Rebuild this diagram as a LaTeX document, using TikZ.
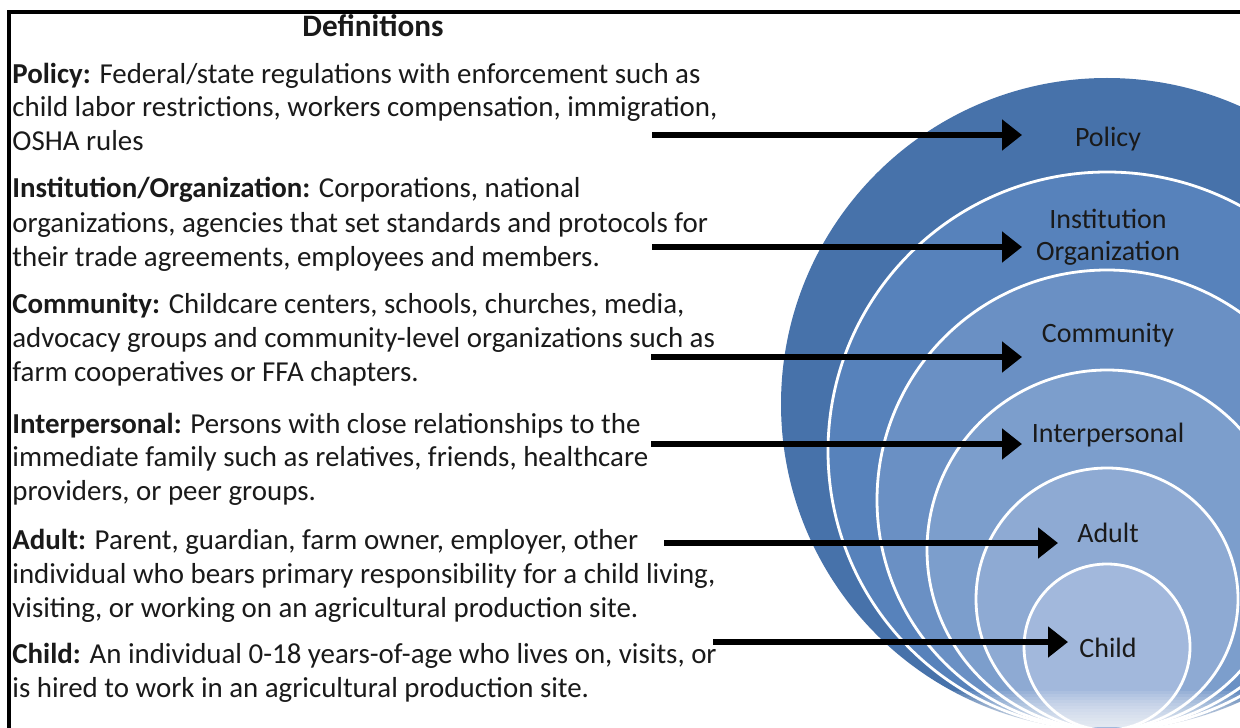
\documentclass[tikz,border=0pt]{standalone}
\usepackage{fontspec}
\setmainfont{Carlito}
\usetikzlibrary{arrows.meta}
\definecolor{ringA}{HTML}{4772AA}
\definecolor{ringB}{HTML}{5782BB}
\definecolor{ringC}{HTML}{6A90C4}
\definecolor{ringD}{HTML}{7C9ECC}
\definecolor{ringE}{HTML}{8EAAD3}
\definecolor{ringF}{HTML}{A2B8DC}
\definecolor{txt}{HTML}{1A1A1A}
\tikzset{
  defline/.style={anchor=base west, inner sep=0pt, text=txt, font=\fontsize{14.45}{16}\selectfont},
  ringlabel/.style={anchor=base, inner sep=0pt, text=txt, font=\fontsize{14}{16}\selectfont},
  ringline/.style={draw=white, line width=1.4pt},
  pointer/.style={draw=black, line width=2.6pt, -{Triangle[length=10pt,width=15pt]}},
}
\begin{document}
\begin{tikzpicture}[x=0.5pt,y=-0.5pt]
\useasboundingbox (0,0) rectangle (1240,727);
\fill[white] (0,0) rectangle (1240,727);
\begin{scope}
\clip (0,0) rectangle (1240,727);
% nested circles
\fill[ringA] (1107,404) circle[radius=163pt];
\fill[ringB] (1107,451) circle[radius=139.5pt];
\draw[ringline] (1107,451) circle[radius=139.5pt];
\fill[ringC] (1107,500) circle[radius=115pt];
\draw[ringline] (1107,500) circle[radius=115pt];
\fill[ringD] (1107,550) circle[radius=90pt];
\draw[ringline] (1107,550) circle[radius=90pt];
\fill[ringE] (1107,599) circle[radius=65.5pt];
\draw[ringline] (1107,599) circle[radius=65.5pt];
\fill[ringF] (1107,647) circle[radius=41.5pt];
\draw[ringline] (1107,647) circle[radius=41.5pt];
% bottom fade
\foreach \i in {1,...,12} {
  \fill[white, opacity=0.1] (760,{727-3*\i}) rectangle (1240,727);
}
% frame
\draw[black, line width=2.2pt] (9,760) -- (9,12) -- (1260,12);
\end{scope}

% title
\node[anchor=base, inner sep=0pt, text=txt, font=\fontsize{15.6}{17}\selectfont\bfseries] (title) at (373,37) {Definitions};

% definitions
\node[defline] (p1) at (12,84)  {\textbf{Policy:} Federal/state regulations with enforcement such as};
\node[defline] (p2) at (12,117) {child labor restrictions, workers compensation, immigration,};
\node[defline] (p3) at (12,151) {OSHA rules};
\node[defline] (i1) at (12,198) {\textbf{Institution/Organization:} Corporations, national};
\node[defline] (i2) at (12,232) {organizations, agencies that set standards and protocols for};
\node[defline] (i3) at (12,266) {their trade agreements, employees and members.};
\node[defline] (c1) at (12,313) {\textbf{Community:} Childcare centers, schools, churches, media,};
\node[defline] (c2) at (12,347) {advocacy groups and community-level organizations such as};
\node[defline] (c3) at (12,381) {farm cooperatives or FFA chapters.};
\node[defline] (n1) at (12,433) {\textbf{Interpersonal:} Persons with close relationships to the};
\node[defline] (n2) at (12,466) {immediate family such as relatives, friends, healthcare};
\node[defline] (n3) at (12,500) {providers, or peer groups.};
\node[defline] (a1) at (12,549) {\textbf{Adult:} Parent, guardian, farm owner, employer, other};
\node[defline] (a2) at (12,583) {individual who bears primary responsibility for a child living,};
\node[defline] (a3) at (12,617) {visiting, or working on an agricultural production site.};
\node[defline] (h1) at (12,663) {\textbf{Child:} An individual 0-18 years-of-age who lives on, visits, or};
\node[defline] (h2) at (12,697) {is hired to work in an agricultural production site.};

% ring labels
\node[ringlabel] (lpolicy) at (1108,147) {Policy};
\node[ringlabel] (linst) at (1108,228) {Institution};
\node[ringlabel] (lorg) at (1108,260) {Organization};
\node[ringlabel] (lcomm) at (1108,342) {Community};
\node[ringlabel] (linter) at (1108,442) {Interpersonal};
\node[ringlabel] (ladult) at (1108,542) {Adult};
\node[ringlabel] (lchild) at (1108,657) {Child};

% arrow end points
\coordinate (sp) at (652,135);  \coordinate (tp) at (1022,135);
\coordinate (si) at (652,247);  \coordinate (ti) at (1022,247);
\coordinate (sc) at (651,357);  \coordinate (tc) at (1022,357);
\coordinate (sn) at (651,444);  \coordinate (tn) at (1022,444);
\coordinate (sa) at (664,543);  \coordinate (ta) at (1058,543);
\coordinate (sh) at (713,642);  \coordinate (th) at (1068,642);
\draw[pointer] (sp) -- (tp);
\draw[pointer] (si) -- (ti);
\draw[pointer] (sc) -- (tc);
\draw[pointer] (sn) -- (tn);
\draw[pointer] (sa) -- (ta);
\draw[pointer] (sh) -- (th);
\end{tikzpicture}
\end{document}
